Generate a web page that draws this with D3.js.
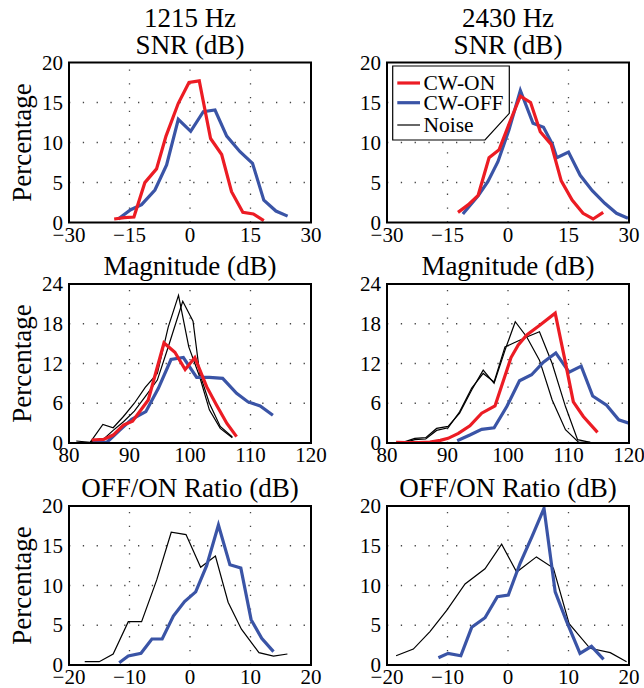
<!DOCTYPE html>
<html>
<head>
<meta charset="utf-8">
<script src="https://cdn.jsdelivr.net/npm/d3@7"></script>
<style>
  body { margin: 0; background: #fff; }
  svg text { font-family: "Liberation Serif", "Times New Roman", serif; fill: #000; }
</style>
</head>
<body>
<div id="chart"></div>
<script>
// tick labels
const snrTicks = [-30, -15, 0, 15, 30];
const magTicks = [80, 90, 100, 110, 120];
const ratioTicks = [-20, -10, 0, 10, 20];
const pctTicks20 = [0, 5, 10, 15, 20];
const pctTicks24 = [0, 6, 12, 18, 24];

// 1215 Hz SNR
const snr1215On = [[-18.8,0.44],[-16.3,0.6],[-13.9,0.69],[-11.2,4.98],[-8.3,6.7],[-5.95,10.8],[-2.9,14.9],[-0.25,17.5],[2.3,17.7],[5.1,10.5],[7.85,8.5],[10.3,3.85],[13.1,1.27],[15.7,1.06],[18.3,0.23]];
const snr1215Off = [[-17.8,0.44],[-14.7,1.6],[-12.0,2.23],[-8.7,4.06],[-5.8,7.2],[-2.9,12.9],[0.17,11.4],[3.3,13.85],[6.2,14.06],[9.1,10.8],[12.4,8.85],[15.5,7.4],[18.3,2.8],[21.3,1.43],[24.2,0.8]];
// 2430 Hz SNR
const snr2430On = [[-12.4,1.27],[-9.9,2.2],[-7.4,3.4],[-4.7,8.1],[-2.2,9.1],[0.4,12.5],[3.06,15.8],[5.6,15.0],[8.0,11.35],[10.7,9.77],[13.2,5.2],[15.9,2.8],[18.6,1.15],[21.1,0.44],[23.6,1.27]];
const snr2430Off = [[-11.2,1.06],[-7.4,3.35],[-5.0,5.1],[-2.5,7.6],[0.25,11.6],[3.06,16.5],[6.2,12.4],[8.8,11.9],[11.0,9.8],[12.1,8.1],[15.0,8.8],[17.9,5.9],[20.9,3.98],[24.0,2.4],[26.9,1.15],[29.75,0.52]];

// 1215 Hz magnitude
const mag1215On = [[83.75,0.45],[85.7,0.55],[87.3,1.2],[89.0,2.7],[90.5,3.3],[93.1,6.5],[95.7,15.1],[97.5,13.7],[99.2,11.1],[100.8,12.9],[102.75,8.5],[104.4,5.7],[106.1,2.95],[107.7,0.96]];
const mag1215Off = [[84.0,0.4],[86.2,0.05],[88.4,1.96],[90.36,3.57],[92.7,4.73],[94.77,8.25],[96.86,12.6],[98.9,12.9],[101.1,9.9],[103.2,9.9],[105.4,9.75],[107.7,7.5],[109.6,6.2],[111.6,5.6],[113.7,4.2]];
const mag1215NoiseA = [[81.2,0.3],[83.5,0.1],[85.6,2.8],[87.3,2.3],[89.0,4.0],[90.8,6.0],[92.6,8.4],[94.6,10.5],[96.4,17.5],[98.1,22.3],[99.8,14.5],[101.6,10.0],[103.2,5.0],[105.0,2.2],[107.0,0.8]];
const mag1215NoiseB = [[83.5,0.2],[85.6,0.5],[87.3,1.9],[89.0,3.2],[90.8,4.8],[92.6,7.0],[94.6,9.5],[96.4,14.5],[98.8,21.4],[100.5,18.4],[101.6,10.5],[103.2,6.0],[105.0,2.5],[107.0,0.9]];
// 2430 Hz magnitude
const mag2430On = [[81.5,0.1],[83.25,0.05],[85.2,0.05],[87.1,0.15],[88.8,0.4],[90.1,0.7],[91.8,1.46],[93.7,2.6],[95.65,4.5],[97.85,5.6],[100.5,12.9],[101.7,14.8],[103.1,16.3],[105.3,17.8],[107.8,19.6],[109.3,13.0],[110.8,6.2],[112.45,4.0],[114.8,1.6]];
const mag2430Off = [[91.6,0.35],[93.7,1.2],[95.65,2.06],[97.7,2.3],[99.8,5.5],[101.9,9.4],[103.9,10.3],[105.85,12.2],[107.9,13.6],[110.1,10.7],[112.1,11.6],[114.0,7.1],[116.3,5.7],[118.3,3.5],[120.0,3.0]];
const mag2430NoiseA = [[83.0,0.2],[84.6,0.7],[86.4,0.8],[88.2,2.2],[90.1,2.5],[92.0,4.5],[94.0,8.0],[95.9,11.0],[97.7,9.0],[99.5,14.0],[101.2,18.3],[103.1,16.0],[105.2,12.5],[107.3,6.5],[109.5,2.0],[111.7,0.1],[113.6,0.1]];
const mag2430NoiseB = [[83.0,0.1],[84.6,0.5],[86.4,0.6],[88.2,1.9],[90.1,2.3],[92.0,4.7],[94.0,8.3],[95.9,10.5],[97.7,9.2],[99.5,14.5],[101.2,15.2],[103.1,16.0],[105.2,16.8],[107.3,12.0],[109.5,5.5],[111.5,0.5],[113.6,0.1]];

// 1215 Hz OFF/ON ratio
const ratio1215Off = [[-11.7,0.29],[-10.2,1.13],[-8.1,1.47],[-6.3,3.27],[-4.6,3.27],[-2.75,6.16],[-0.9,7.97],[0.94,9.2],[2.75,12.5],[4.7,17.6],[6.6,12.6],[8.4,12.2],[10.1,5.7],[11.85,3.35],[13.8,1.68]];
const ratio1215Noise = [[-17.4,0.42],[-15.0,0.42],[-12.7,1.38],[-10.2,5.45],[-8.0,5.45],[-5.5,10.7],[-3.1,16.7],[-0.66,16.4],[1.76,12.3],[4.2,13.7],[6.3,7.9],[8.5,4.5],[11.4,1.55],[13.8,1.13],[16.1,1.38]];
// 2430 Hz OFF/ON ratio
const ratio2430Off = [[-11.5,0.92],[-9.9,1.47],[-7.8,1.17],[-6.0,4.74],[-3.8,5.95],[-1.76,8.6],[0.05,8.8],[2.0,12.8],[4.0,16.2],[5.95,19.7],[7.8,9.2],[9.7,5.45],[11.9,1.47],[13.8,2.35],[15.8,0.71]];
const ratio2430Noise = [[-18.5,1.17],[-15.65,2.0],[-12.9,4.2],[-10.1,6.9],[-7.1,10.2],[-3.8,12.1],[-1.05,15.2],[1.43,11.7],[4.7,13.6],[7.5,12.2],[10.1,5.2],[13.55,2.1],[16.9,1.55],[19.6,0.42]];

const legendNames = ["CW-ON", "CW-OFF", "Noise"];

const RED = "#ec1c24", BLUE = "#3a54a6", BLACK = "#000";

const colX = [[69, 311], [387, 629]];
const rowY = [[62.5, 222.5], [284, 443], [506, 665]];

const panels = [
  { col: 0, row: 0, xd: [-30, 30], xt: snrTicks, yd: [0, 20], yt: pctTicks20, title: ["1215 Hz", "SNR (dB)"],
    series: [[snr1215Off, BLUE, 3.2], [snr1215On, RED, 3.2]] },
  { col: 1, row: 0, xd: [-30, 30], xt: snrTicks, yd: [0, 20], yt: pctTicks20, title: ["2430 Hz", "SNR (dB)"],
    series: [[snr2430Off, BLUE, 3.2], [snr2430On, RED, 3.2]], legend: true },
  { col: 0, row: 1, xd: [80, 120], xt: magTicks, yd: [0, 24], yt: pctTicks24, title: ["Magnitude (dB)"],
    series: [[mag1215NoiseA, BLACK, 1.2], [mag1215NoiseB, BLACK, 1.2], [mag1215Off, BLUE, 3.2], [mag1215On, RED, 3.2]] },
  { col: 1, row: 1, xd: [80, 120], xt: magTicks, yd: [0, 24], yt: pctTicks24, title: ["Magnitude (dB)"],
    series: [[mag2430NoiseA, BLACK, 1.2], [mag2430NoiseB, BLACK, 1.2], [mag2430Off, BLUE, 3.2], [mag2430On, RED, 3.2]] },
  { col: 0, row: 2, xd: [-20, 20], xt: ratioTicks, yd: [0, 20], yt: pctTicks20, title: ["OFF/ON Ratio (dB)"],
    series: [[ratio1215Noise, BLACK, 1.2], [ratio1215Off, BLUE, 3.2]] },
  { col: 1, row: 2, xd: [-20, 20], xt: ratioTicks, yd: [0, 20], yt: pctTicks20, title: ["OFF/ON Ratio (dB)"],
    series: [[ratio2430Noise, BLACK, 1.2], [ratio2430Off, BLUE, 3.2]] }
];

const svg = d3.select("#chart").append("svg")
  .attr("width", 644)
  .attr("height", 688);

const fmt = d3.format("");

panels.forEach((p, i) => {
  const [x0, x1] = colX[p.col];
  const [y0, y1] = rowY[p.row];
  const x = d3.scaleLinear().domain(p.xd).range([x0, x1]);
  const y = d3.scaleLinear().domain(p.yd).range([y1, y0]);
  const g = svg.append("g");

  // dotted grid
  g.selectAll("line.vgrid")
    .data(p.xt.slice(1, -1))
    .enter().append("line")
    .attr("x1", d => x(d)).attr("x2", d => x(d))
    .attr("y1", y1).attr("y2", y0)
    .attr("stroke", "#444").attr("stroke-width", 1.3)
    .attr("stroke-dasharray", "1.3,12.5");
  g.selectAll("line.hgrid")
    .data(p.yt.slice(1, -1))
    .enter().append("line")
    .attr("y1", d => y(d)).attr("y2", d => y(d))
    .attr("x1", x0).attr("x2", x1)
    .attr("stroke", "#444").attr("stroke-width", 1.3)
    .attr("stroke-dasharray", "1.3,12.5");

  // clip and lines
  svg.append("clipPath").attr("id", "clip" + i)
    .append("rect").attr("x", x0).attr("y", y0).attr("width", x1 - x0).attr("height", y1 - y0);

  const line = d3.line().x(d => x(d[0])).y(d => y(d[1]));
  p.series.forEach(([data, color, w]) => {
    g.append("path")
      .datum(data)
      .attr("clip-path", `url(#clip${i})`)
      .attr("fill", "none")
      .attr("stroke", color)
      .attr("stroke-width", w)
      .attr("stroke-linejoin", "miter")
      .attr("d", line);
  });

  // frame
  g.append("rect")
    .attr("x", x0).attr("y", y0)
    .attr("width", x1 - x0).attr("height", y1 - y0)
    .attr("fill", "none").attr("stroke", "#000").attr("stroke-width", 2);

  // tick labels
  g.selectAll("text.xt")
    .data(p.xt)
    .enter().append("text")
    .attr("x", d => x(d))
    .attr("y", y1 + 19)
    .attr("text-anchor", "middle")
    .attr("font-size", 21)
    .text(d => fmt(d).replace("-", "\u2212"));
  g.selectAll("text.yt")
    .data(p.yt)
    .enter().append("text")
    .attr("x", x0 - 6)
    .attr("y", d => y(d) + 7)
    .attr("text-anchor", "end")
    .attr("font-size", 21)
    .text(d => d);

  // title
  const cx = (x0 + x1) / 2;
  p.title.forEach((t, k) => {
    g.append("text")
      .attr("x", cx)
      .attr("y", y0 - 9 - (p.title.length - 1 - k) * 27)
      .attr("text-anchor", "middle")
      .attr("font-size", 27)
      .text(t);
  });

  if (p.col === 0) {
    g.append("text")
      .attr("transform", `translate(31,${(y0 + y1) / 2}) rotate(-90)`)
      .attr("text-anchor", "middle")
      .attr("font-size", 27)
      .text("Percentage");
  }

  if (p.legend) {
    const lg = svg.append("g");
    lg.append("path")
      .attr("d", "M392.7,66 L509.3,66 L509.3,113.3 L485,140 L392.7,140 Z")
      .attr("fill", "#fff").attr("stroke", "#000").attr("stroke-width", 1.2);
    const colors = [RED, BLUE, BLACK];
    const widths = [3.2, 3.2, 1.2];
    const ly = [83, 102.7, 125];
    legendNames.forEach((name, k) => {
      lg.append("line")
        .attr("x1", 397.3).attr("x2", 420)
        .attr("y1", ly[k]).attr("y2", ly[k])
        .attr("stroke", colors[k]).attr("stroke-width", widths[k]);
      lg.append("text")
        .attr("x", 423.5)
        .attr("y", ly[k] + 7)
        .attr("font-size", 21.5)
        .text(name);
    });
  }
});
</script>
</body>
</html>
